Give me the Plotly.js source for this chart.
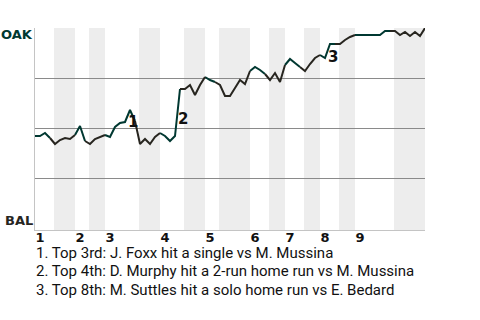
<!DOCTYPE html>
<html>
<head>
<meta charset="utf-8">
<script src="https://cdn.plot.ly/plotly-3.0.1.min.js"></script>
<style>
  html, body { margin: 0; padding: 0; background: #fff; }
  #chart { width: 480px; height: 320px; }
</style>
</head>
<body>
<div id="chart"></div>
<script>
// ---- data ----
const awayTeam = 'OAK';
const homeTeam = 'BAL';
// OAK win probability after each plate appearance (index 0 = first pitch)
const winProb = [
  0.46, 0.46, 0.475, 0.45, 0.42, 0.44, 0.45, 0.445, 0.465, 0.51,
  0.435, 0.42, 0.445, 0.455, 0.465, 0.455, 0.505, 0.525, 0.53, 0.59,
  0.535, 0.42, 0.445, 0.42, 0.455, 0.475, 0.46, 0.435, 0.46, 0.695,
  0.695, 0.715, 0.665, 0.715, 0.755, 0.74, 0.73, 0.715, 0.66, 0.66,
  0.70, 0.74, 0.72, 0.785, 0.805, 0.79, 0.77, 0.74, 0.775, 0.73,
  0.815, 0.845, 0.825, 0.805, 0.785, 0.82, 0.85, 0.865, 0.85, 0.92,
  0.92, 0.92, 0.94, 0.955, 0.965, 0.965, 0.965, 0.965, 0.965, 0.965,
  0.985, 0.985, 0.985, 0.965, 0.98, 0.96, 0.98, 0.96, 1.0
];
// index of last plate appearance in each half inning (top, bottom, top, ...)
const halfInningEnds = [3, 8, 10, 14, 20, 25, 29, 34, 36, 43, 46, 50, 53, 57, 60, 64, 71, 78];
const inningLabels = ['1', '2', '3', '4', '5', '6', '7', '8', '9'];
const eventIndex = [19, 29, 59];
const eventMarks = ['1', '2', '3'];
const eventNotes = [
  '1. Top 3rd: J. Foxx hit a single vs M. Mussina',
  '2. Top 4th: D. Murphy hit a 2-run home run vs M. Mussina',
  '3. Top 8th: M. Suttles hit a solo home run vs E. Bedard'
];

// ---- styles ----
const GREEN = '#003831';
const DARK = '#27251F';
const BAND = '#ededed';
const GRID = '#8a8a8a';
const AXIS = '#c4c4c4';

// build top / bottom half segments
const topX = [], topY = [], botX = [], botY = [];
let start = 0;
halfInningEnds.forEach((end, h) => {
  const tx = h % 2 === 0 ? topX : botX;
  const ty = h % 2 === 0 ? topY : botY;
  for (let k = start; k <= end; k++) { tx.push(k); ty.push(winProb[k]); }
  tx.push(null); ty.push(null);
  start = end;
});

const traces = [
  { x: topX, y: topY, type: 'scatter', mode: 'lines', connectgaps: false,
    line: { color: GREEN, width: 2 }, hoverinfo: 'skip', showlegend: false },
  { x: botX, y: botY, type: 'scatter', mode: 'lines', connectgaps: false,
    line: { color: DARK, width: 2 }, hoverinfo: 'skip', showlegend: false }
];

// shaded bottom halves
const shapes = [];
for (let h = 1; h < halfInningEnds.length; h += 2) {
  shapes.push({
    type: 'rect', layer: 'below', xref: 'x', yref: 'paper',
    x0: halfInningEnds[h - 1] + 0.8, x1: halfInningEnds[h], y0: 0, y1: 1,
    fillcolor: BAND, line: { width: 0 }
  });
}

// inning start positions
const inningStarts = [0];
for (let h = 1; h < halfInningEnds.length - 1; h += 2) inningStarts.push(halfInningEnds[h]);

const annotations = [];
annotations.push({ xref: 'paper', yref: 'y', x: 0, y: 1, xanchor: 'right', yanchor: 'middle',
  xshift: 0, yshift: -6, text: awayTeam, showarrow: false,
  font: { family: 'DejaVu Sans', size: 13, color: GREEN, weight: 'bold' } });
annotations.push({ xref: 'paper', yref: 'y', x: 0, y: 0, xanchor: 'right', yanchor: 'middle',
  xshift: 0, yshift: 8, text: homeTeam, showarrow: false,
  font: { family: 'DejaVu Sans', size: 13, color: DARK, weight: 'bold' } });

eventIndex.forEach((k, i) => {
  annotations.push({ xref: 'x', yref: 'y', x: k, y: (winProb[k - 1] + winProb[k]) / 2,
    xanchor: 'left', yanchor: 'middle', xshift: -4, yshift: -6,
    text: eventMarks[i], showarrow: false,
    font: { family: 'DejaVu Sans', size: 15, color: '#111', weight: 'bold' } });
});

eventNotes.forEach((t, i) => {
  annotations.push({ xref: 'paper', yref: 'paper', x: 0, y: -0.114 - i * 0.091,
    xanchor: 'left', yanchor: 'middle', xshift: -1,
    text: t, showarrow: false,
    font: { family: 'Roboto', size: 15, color: '#111' } });
});

const layout = {
  width: 480, height: 320,
  margin: { l: 35, r: 55, t: 28, b: 90 },
  paper_bgcolor: '#fff', plot_bgcolor: '#fff',
  showlegend: false,
  xaxis: {
    range: [0, halfInningEnds[halfInningEnds.length - 1]],
    tickmode: 'array', tickvals: inningStarts, ticktext: inningLabels,
    ticklabelposition: 'outside right',
    ticklabelstandoff: -5,
    showgrid: false, zeroline: false,
    showline: true, linecolor: AXIS, linewidth: 1,
    ticks: '', fixedrange: true,
    tickfont: { family: 'DejaVu Sans', size: 13, color: '#111', weight: 'bold' }
  },
  yaxis: {
    range: [-0.01, 1],
    tickmode: 'array', tickvals: [0.25, 0.5, 0.75, 1],
    showticklabels: false, ticks: '',
    showgrid: true, gridcolor: GRID, gridwidth: 1,
    zeroline: false, showline: true, linecolor: AXIS, linewidth: 1,
    fixedrange: true
  },
  shapes: shapes,
  annotations: annotations
};

Plotly.newPlot('chart', traces, layout, { displayModeBar: false, staticPlot: true });
</script>
</body>
</html>
